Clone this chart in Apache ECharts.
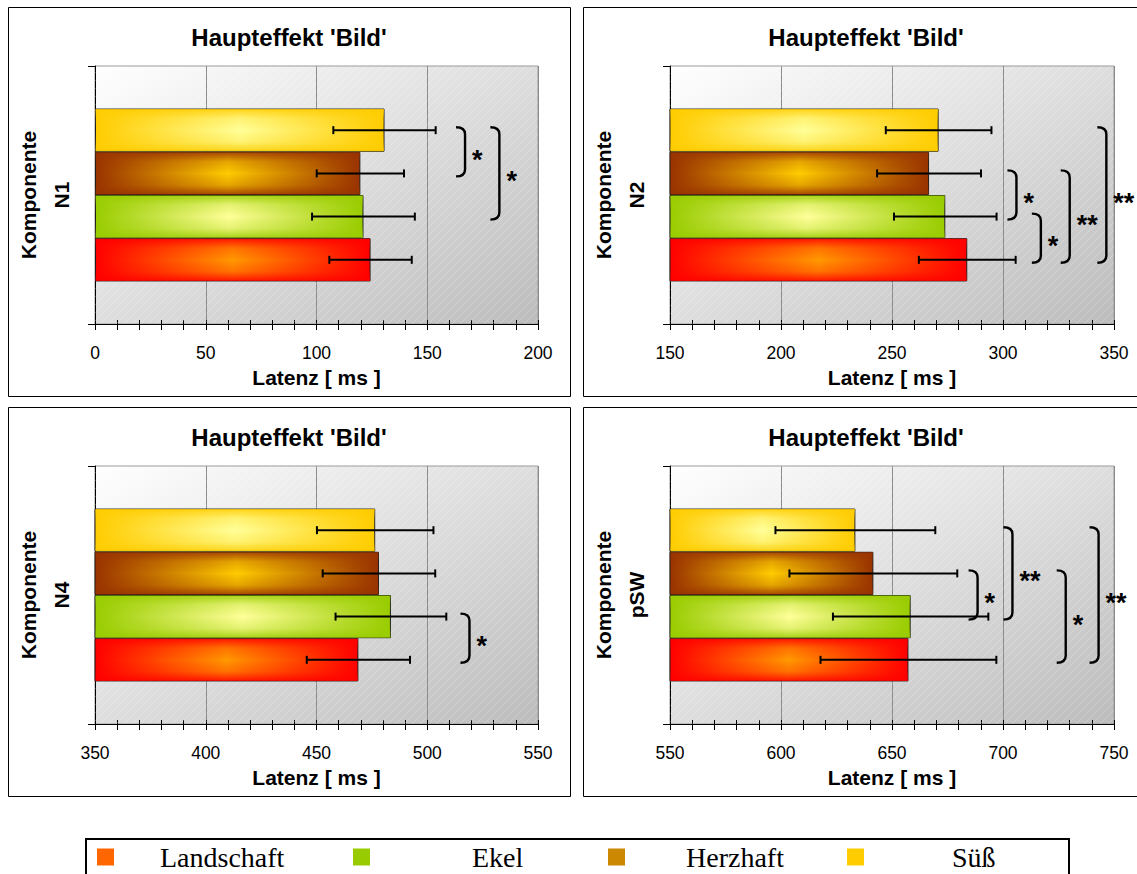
<!DOCTYPE html>
<html>
<head>
<meta charset="utf-8">
<script src="https://cdn.jsdelivr.net/npm/echarts@6/dist/echarts.min.js"></script>
<style>html,body{margin:0;padding:0;background:#fff}#c{width:1137px;height:874px}</style>
</head>
<body>
<div id="c"></div>
<script>
// ---------------- data ----------------
const categories = ['Landschaft', 'Ekel', 'Herzhaft', 'Süß'];
const components = ['N1', 'N2', 'N4', 'pSW'];
const chartTitle = "Haupteffekt 'Bild'";
const yAxisTitle = 'Komponente';
const xAxisTitle = 'Latenz [ ms ]';
const axisMin = [0, 150, 350, 550];
const axisMax = [200, 350, 550, 750];
const tickStep = 50;

// mean latency (ms), order: Landschaft, Ekel, Herzhaft, Süß
const latencyN1 = [124.4, 121.2, 119.8, 130.7];
const errorN1 = [18.6, 23.2, 19.7, 23.1];
const latencyN2 = [283.9, 274.0, 266.7, 271.0];
const errorN2 = [21.8, 23.1, 23.4, 23.8];
const latencyN4 = [468.9, 483.6, 478.2, 476.5];
const errorN4 = [23.3, 25.0, 25.4, 26.3];
const latencyPSW = [657.4, 658.4, 641.6, 633.5];
const errorPSW = [39.6, 35.0, 37.8, 36.0];

// significance brackets: [from, to, position (ms), label]
const sigN1 = [['Süß', 'Herzhaft', 163, '*'], ['Süß', 'Ekel', 178.5, '*']];
const sigN2 = [['Herzhaft', 'Ekel', 302, '*'], ['Ekel', 'Landschaft', 313, '*'],
               ['Herzhaft', 'Landschaft', 326, '**'], ['Süß', 'Landschaft', 342.5, '**']];
const sigN4 = [['Ekel', 'Landschaft', 515, '*']];
const sigPSW = [['Herzhaft', 'Ekel', 684.5, '*'], ['Süß', 'Ekel', 700.2, '**'],
                ['Herzhaft', 'Landschaft', 724.2, '*'], ['Süß', 'Landschaft', 739, '**']];

// ---------------- styles / layout ----------------
const edgeColors = ['#FF0000', '#99CC00', '#993300', '#FFCC00'];
const centerColors = ['#FF9900', '#FFFF99', '#FFCC00', '#FFFF99'];
const legendColors = ['#FF6600', '#99CC00', '#CC8800', '#FFCC00'];
const FONT = 'Liberation Sans, Arial, sans-serif';
const SERIF = 'Liberation Serif, Times New Roman, serif';
const GAP = 0.33;

const panels = [
  {lat: latencyN1, err: errorN1, sig: sigN1},
  {lat: latencyN2, err: errorN2, sig: sigN2},
  {lat: latencyN4, err: errorN4, sig: sigN4},
  {lat: latencyPSW, err: errorPSW, sig: sigPSW}
];
const layout = [
  {left: 95, top: 66, width: 443, titleX: 289, frame: [8.5, 7.5, 562, 389]},
  {left: 670, top: 66, width: 444, titleX: 866, frame: [583.5, 7.5, 570, 389]},
  {left: 95, top: 466, width: 443, titleX: 289, frame: [8.5, 407.5, 562, 389]},
  {left: 670, top: 466, width: 444, titleX: 866, frame: [583.5, 407.5, 570, 389]}
];
const PLOT_H = 258;
const legendX = [97, 353, 608, 847];
const legendPad = [41, 97, 56, 83];

// hatch tile for the plot background
const hatchCanvas = document.createElement('canvas');
hatchCanvas.width = 8; hatchCanvas.height = 8;
(function () {
  const ctx = hatchCanvas.getContext('2d');
  ctx.strokeStyle = 'rgba(255,255,255,0.22)';
  ctx.lineWidth = 1;
  ctx.beginPath();
  ctx.moveTo(-1, 9); ctx.lineTo(9, -1);
  ctx.stroke();
})();
const hatchURL = hatchCanvas.toDataURL();

function slotOf(i) { return categories.length - 1 - i; } // 0 = top bar
function hexA(hex, a) {
  const n = parseInt(hex.slice(1), 16);
  return 'rgba(' + (n >> 16) + ',' + ((n >> 8) & 255) + ',' + (n & 255) + ',' + a + ')';
}
function slotGeom(api, minV) {
  const c = api.coord([minV, 0]);
  const band = api.size([0, 1])[1];
  const total = band * (1 - GAP);
  const w = total / categories.length;
  return {x0: c[0], top: c[1] - total / 2, w: w, band: band, cy: c[1]};
}

const option = {
  animation: false,
  backgroundColor: '#ffffff',
  title: [], grid: [], xAxis: [], yAxis: [], series: [], legend: [], graphic: []
};

panels.forEach((P, k) => {
  const L = layout[k];
  const minV = axisMin[k], maxV = axisMax[k];
  option.title.push({
    text: chartTitle, left: L.titleX, top: L.top - 41, textAlign: 'center', padding: 0,
    textStyle: {fontFamily: FONT, fontSize: 24, fontWeight: 'bold', color: '#000'}
  });
  option.grid.push({
    left: L.left, top: L.top, width: L.width, height: PLOT_H, show: true,
    borderColor: '#999', borderWidth: 1, outerBoundsMode: 'none',
    backgroundColor: new echarts.graphic.LinearGradient(0, 0, 1, 1, [
      {offset: 0, color: '#ffffff'}, {offset: 1, color: '#bcbcbc'}])
  });
  option.xAxis.push({
    gridIndex: k, type: 'value', min: minV, max: maxV, interval: tickStep, position: 'bottom',
    axisLine: {show: true, lineStyle: {color: '#000', width: 1}},
    axisTick: {show: true, length: 6, lineStyle: {color: '#000'}},
    minorTick: {show: true, splitNumber: 5, length: 6, lineStyle: {color: '#000'}},
    axisLabel: {color: '#000', fontSize: 17.5, fontFamily: FONT, margin: 20},
    splitLine: {show: true, lineStyle: {color: '#8a8a8a', width: 1}},
    name: xAxisTitle, nameLocation: 'middle', nameGap: 43,
    nameTextStyle: {fontFamily: FONT, fontSize: 21, fontWeight: 'bold', color: '#000'}
  });
  option.xAxis.push({
    gridIndex: k, type: 'value', min: minV, max: maxV, interval: tickStep, position: 'top', offset: -PLOT_H,
    axisLine: {show: false},
    axisTick: {show: true, length: 4, lineStyle: {color: '#000'}},
    minorTick: {show: true, splitNumber: 5, length: 4, lineStyle: {color: '#000'}},
    axisLabel: {show: false}, splitLine: {show: false}
  });
  option.yAxis.push({
    gridIndex: k, type: 'category', data: [components[k]], boundaryGap: true,
    axisLine: {show: true, lineStyle: {color: '#000'}},
    axisTick: {show: true, length: 7, lineStyle: {color: '#000'}},
    axisLabel: {show: false}, splitLine: {show: false},
    name: yAxisTitle + '\n' + components[k], nameLocation: 'middle', nameRotate: 90, nameGap: 17,
    nameTextStyle: {fontFamily: FONT, fontSize: 21, fontWeight: 'bold', lineHeight: 33, color: '#000'}
  });

  // hatch overlay of the plot area
  option.series.push({
    type: 'custom', name: 'hatch' + k, xAxisIndex: 2 * k, yAxisIndex: k, z: 1, silent: true, clip: false,
    encode: {x: [0, 1], y: 2},
    data: [[minV, maxV, 0]],
    renderItem: function (params, api) {
      const g = slotGeom(api, minV);
      const x1 = api.coord([maxV, 0])[0];
      return {type: 'rect', silent: true,
        shape: {x: g.x0, y: g.cy - g.band / 2, width: x1 - g.x0, height: g.band},
        style: {fill: {image: hatchURL, repeat: 'repeat'}}};
    }
  });

  // bars: top to bottom = Süß, Herzhaft, Ekel, Landschaft
  for (let s = categories.length - 1; s >= 0; s--) {
    option.series.push({
      type: 'bar', name: categories[s], xAxisIndex: 2 * k, yAxisIndex: k,
      data: [P.lat[s]], barGap: '0%', barCategoryGap: (GAP * 100) + '%', z: 3,
      itemStyle: {
        borderColor: '#1a1a1a', borderWidth: 1,
        color: new echarts.graphic.LinearGradient(0, 0, 1, 0, [
          {offset: 0, color: edgeColors[s]}, {offset: 0.5, color: centerColors[s]},
          {offset: 1, color: edgeColors[s]}])
      },
      emphasis: {disabled: true}
    });
  }
  // vertical shading overlay on bars
  option.series.push({
    type: 'custom', name: 'shade' + k, xAxisIndex: 2 * k, yAxisIndex: k, z: 4, silent: true, clip: false,
    encode: {x: 0, y: 1},
    data: P.lat.map((v, i) => [v, 0, slotOf(i), i]),
    renderItem: function (params, api) {
      const g = slotGeom(api, minV);
      const v = api.value(0), slot = api.value(2), ci = api.value(3);
      const x1 = api.coord([v, 0])[0];
      const y = g.top + g.w * slot;
      return {
        type: 'rect', silent: true,
        shape: {x: g.x0 + 0.5, y: y + 0.5, width: x1 - g.x0 - 1, height: g.w - 1},
        style: {fill: new echarts.graphic.LinearGradient(0, 0, 0, 1, [
          {offset: 0, color: hexA(edgeColors[ci], 0.85)},
          {offset: 0.22, color: hexA(edgeColors[ci], 0.25)},
          {offset: 0.5, color: hexA(edgeColors[ci], 0)},
          {offset: 0.78, color: hexA(edgeColors[ci], 0.25)},
          {offset: 1, color: hexA(edgeColors[ci], 0.85)}])}
      };
    }
  });
  // error bars
  option.series.push({
    type: 'custom', name: 'err' + k, xAxisIndex: 2 * k, yAxisIndex: k, z: 5, silent: true, clip: false,
    encode: {x: [0, 1], y: 2},
    data: P.lat.map((v, i) => [v - P.err[i], v + P.err[i], 0, slotOf(i)]),
    renderItem: function (params, api) {
      const g = slotGeom(api, minV);
      const slot = api.value(3);
      const y = g.top + g.w * (slot + 0.5);
      const xa = api.coord([api.value(0), 0])[0];
      const xb = api.coord([api.value(1), 0])[0];
      const st = {stroke: '#000', lineWidth: 2};
      return {type: 'group', children: [
        {type: 'line', shape: {x1: xa, y1: y, x2: xb, y2: y}, style: st},
        {type: 'line', shape: {x1: xa, y1: y - 4, x2: xa, y2: y + 4}, style: st},
        {type: 'line', shape: {x1: xb, y1: y - 4, x2: xb, y2: y + 4}, style: st}
      ]};
    }
  });
  // significance brackets
  option.series.push({
    type: 'custom', name: 'sig' + k, xAxisIndex: 2 * k, yAxisIndex: k, z: 5, silent: true, clip: false,
    encode: {x: 0, y: 1},
    data: P.sig.map(s => [s[2], 0]),
    renderItem: function (params, api) {
      const s = P.sig[params.dataIndex];
      const g = slotGeom(api, minV);
      const a = slotOf(categories.indexOf(s[0])), b = slotOf(categories.indexOf(s[1]));
      const yT = g.top + g.w * (Math.min(a, b) + 0.5) - 3;
      const yB = g.top + g.w * (Math.max(a, b) + 0.5) + 3;
      const xL = api.coord([s[2], 0])[0];
      const xR = xL + 9;
      const r = 7;
      const d = 'M' + xL + ',' + yT + ' Q' + xR + ',' + yT + ' ' + xR + ',' + (yT + r) +
                ' L' + xR + ',' + (yB - r) + ' Q' + xR + ',' + yB + ' ' + xL + ',' + yB;
      return {type: 'group', children: [
        {type: 'path', shape: {pathData: d, x: xL, y: yT, width: xR - xL, height: yB - yT},
         style: {fill: 'none', stroke: '#000', lineWidth: 2.4}},
        {type: 'text', style: {text: s[3], x: xR + 7, y: (yT + yB) / 2 + 8,
          font: 'bold 27px ' + FONT, fill: '#000', align: 'left', verticalAlign: 'middle'}}
      ]};
    }
  });
  option.graphic.push({
    type: 'rect', silent: true, z: 10,
    shape: {x: L.frame[0], y: L.frame[1], width: L.frame[2], height: L.frame[3]},
    style: {fill: 'none', stroke: '#000', lineWidth: 1}
  });
});

// legend
categories.forEach((c, i) => {
  option.legend.push({
    left: legendX[i], top: 843, padding: 0, itemWidth: 17, itemHeight: 17, icon: 'rect',
    selectedMode: false,
    data: [{name: c, itemStyle: {color: legendColors[i], borderWidth: 0}}],
    formatter: '{t|{name}}',
    textStyle: {color: '#000', fontFamily: SERIF, fontSize: 28,
      rich: {t: {color: '#000', fontFamily: SERIF, fontSize: 28, padding: [0, 0, 0, legendPad[i]]}}}
  });
});
option.graphic.push({
  type: 'rect', silent: true, z: 10,
  shape: {x: 86, y: 839, width: 983, height: 60},
  style: {fill: 'none', stroke: '#000', lineWidth: 2}
});

const chart = echarts.init(document.getElementById('c'), null, {renderer: 'svg'});
chart.setOption(option);
</script>
</body>
</html>
